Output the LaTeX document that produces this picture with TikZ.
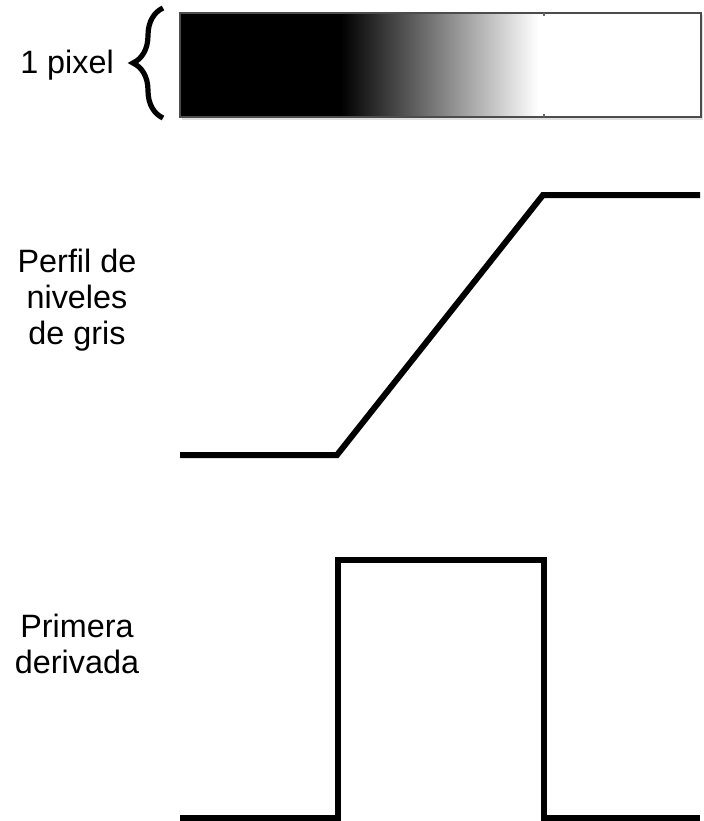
\documentclass[tikz,border=0pt]{standalone}
\usepackage{fontspec}
\setmainfont{Liberation Sans}
\usetikzlibrary{decorations.pathreplacing}
\tikzset{
  curva/.style={line width=0.15cm},
  rotulo/.style={font=\fontsize{23}{25.6}\selectfont, align=center, inner sep=0pt}
}
\begin{document}
\begin{tikzpicture}[x=0.025cm,y=-0.025cm]
\useasboundingbox (0,0) rectangle (703,821);
% banda de grises
    \fill[black!12] (182,15) rectangle (703,120);
    \fill[black] (180,13) rectangle (341,117);
    \shade[left color=black, right color=white] (341,13) rectangle (538,117);
    \fill[white] (538,13) rectangle (701,117);
    \draw[black!70, line width=0.03cm] (180,13) rectangle (701,117);
    \draw[black!60, line width=0.03cm] (544,13)--(544,16) (544,117)--(544,114);
\draw[decorate, decoration={brace, amplitude=0.75cm}, line width=0.13cm] (163,118)--(163,8);
\node[rotulo] (pixel) at (67,65) {1 pixel};
% perfil
    \node[rotulo] (perfil) at (77,300) {Perfil de\\niveles\\de gris};
    \draw[curva] (180,455)--(337,455)--(543,195)--(700,195);
% derivada
    \node[rotulo] (deriv) at (77,644) {Primera\\derivada};
    \draw[curva] (180,818)--(338,818)--(338,560)--(544,560)--(544,818)--(700,818);
\end{tikzpicture}
\end{document}
